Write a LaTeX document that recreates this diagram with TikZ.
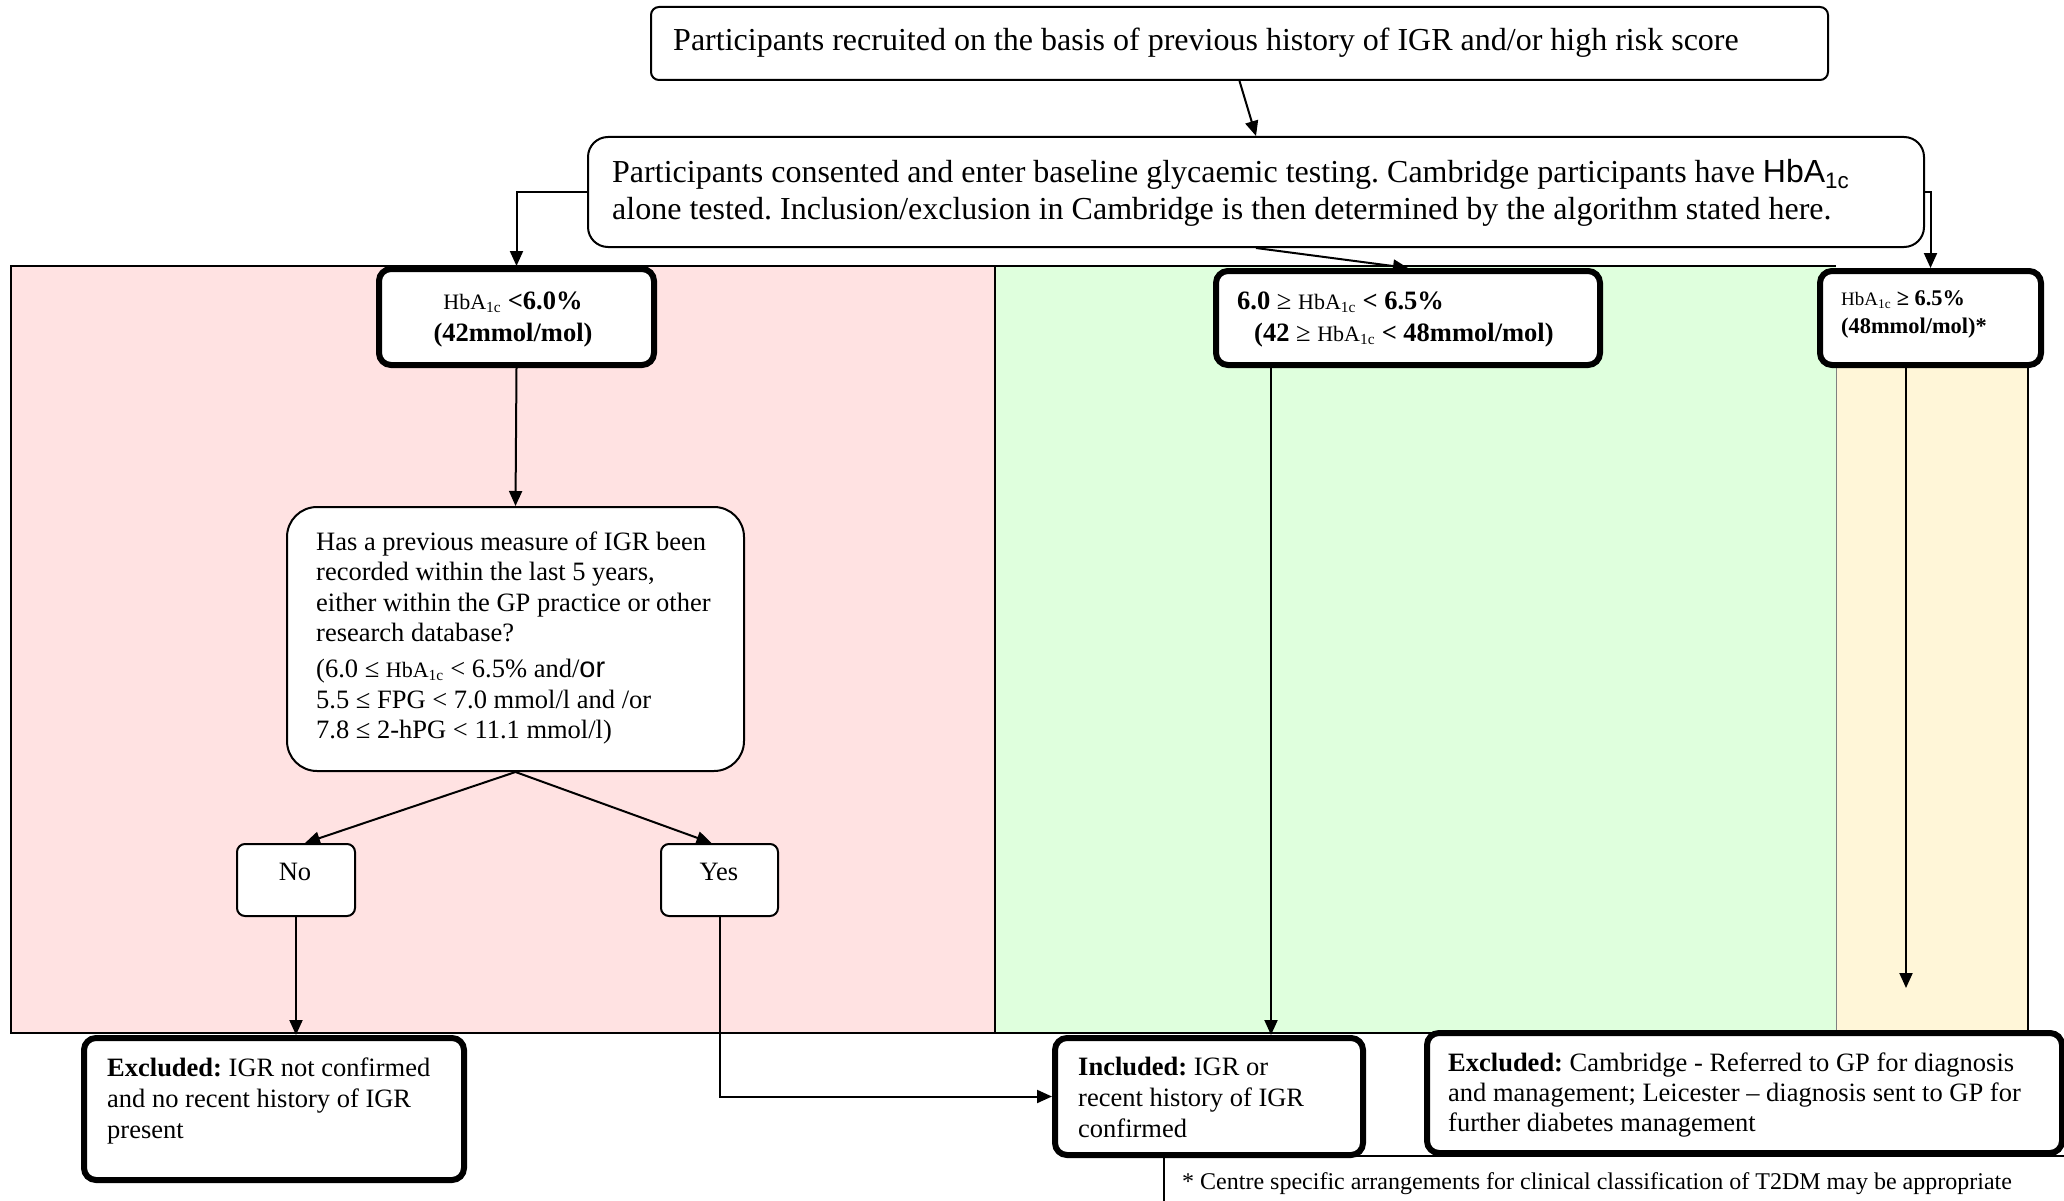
\documentclass[tikz,border=0pt]{standalone}
\usepackage{fontspec}
\setmainfont{Liberation Serif}
\newfontfamily\arialf{Liberation Sans}
\usetikzlibrary{arrows.meta,calc}
\definecolor{pinkbg}{RGB}{255,226,226}
\definecolor{greenbg}{RGB}{223,255,221}
\definecolor{yellowbg}{RGB}{255,246,216}
\newcommand\myfs[2]{\fontsize{#1}{#2}\selectfont}
\newcommand\hbasmall{{\fontsize{22}{26}\selectfont HbA\textsubscript{1c}}}
\newcommand\hbatiny{{\fontsize{19}{22}\selectfont HbA\textsubscript{1c}}}
\frenchspacing
\begin{document}
\begin{tikzpicture}[x=1pt,y=-1pt,
  thinbox/.style={draw=black, line width=2pt, fill=white, rounded corners=#1, inner sep=0pt, anchor=north west},
  thinbox/.default=8pt,
  thickbox/.style={draw=black, line width=6pt, fill=white, rounded corners=12pt, inner sep=0pt, anchor=north west},
  txt/.style={inner sep=0pt, anchor=north west, align=left},
  conn/.style={line width=2pt, -{Triangle[length=15pt,width=13pt]}},
  panel/.style={draw=black, line width=2pt}
]
\useasboundingbox (0,0) rectangle (2064,1201);
\clip (0,0) rectangle (2064,1201);
\fill[white] (0,0) rectangle (2064,1201);

% panels
\fill[pinkbg] (11,266) rectangle (995,1033);
\fill[greenbg] (995,266) rectangle (1836,1033);
\fill[yellowbg] (1836,363) rectangle (2028,1033);
\draw[panel] (11,266) rectangle (995,1033);
\draw[panel] (995,266) -- (1836,266);
\draw[panel] (995,1033) -- (1836,1033);
\draw[draw=gray, line width=1pt] (1836,363) -- (1836,1033);
\draw[line width=1.5pt] (2028,363) -- (2028,1033);
\draw[draw=gray, line width=1pt] (1836,1033) -- (2028,1033);

% footnote box
\node[draw=black, line width=1.5pt, fill=white, anchor=north west, inner sep=0pt,
      minimum width=950pt, minimum height=100pt] (fn) at (1163,1155) {};

% boxes
\node[thinbox=8pt, minimum width=1177pt, minimum height=73pt] (top) at (650,6) {};
\node[thinbox=20pt, minimum width=1336pt, minimum height=110pt] (consent) at (587,136) {};
\node[thickbox, minimum width=275pt, minimum height=96pt] (low) at (376,266) {};
\node[thickbox, minimum width=384pt, minimum height=94pt] (mid) at (1213,268) {};
\node[thickbox, minimum width=221pt, minimum height=94pt] (high) at (1817,268) {};
\node[thinbox=30pt, minimum width=457pt, minimum height=264pt] (q) at (286,506) {};
\node[thinbox=8pt, minimum width=118pt, minimum height=72pt] (no) at (236,843) {};
\node[thinbox=8pt, minimum width=117pt, minimum height=72pt] (yes) at (660,843) {};
\node[thickbox, minimum width=380pt, minimum height=142pt] (exL) at (81,1035) {};
\node[thickbox, minimum width=308pt, minimum height=117pt] (incl) at (1052,1035) {};
\node[thickbox, minimum width=635pt, minimum height=120pt] (exR) at (1424,1030) {};

% connectors
\draw[conn] (top.south) -- (consent.north);
\draw[conn] (consent.west) -| (low.north);
\draw[conn] (consent.east) -| (high.north);
\draw[conn] (consent.south) -- (mid.north);
\draw[conn] (low.south) -- (q.north);
\draw[conn] (q.south) -- ([xshift=9pt]no.north);
\draw[conn] (q.south) -- ([xshift=-8pt]yes.north);
\draw[conn] (no.south) -- (no.south |- exL.north);
\draw[conn] (yes.south) |- (incl.west);
\coordinate (gdrop) at (1271,363);
\draw[conn] (gdrop) -- (gdrop |- incl.north);
\coordinate (yend) at (1906,988);
\draw[conn] (yend |- high.south) -- (yend);

% texts
\node[txt, font=\myfs{32}{37}] (toptext) at (673,24)
  {\strut Participants recruited on the basis of previous history of IGR and/or high risk score};
\node[txt, font=\myfs{32}{37}] (consenttext) at (612,156)
  {\strut Participants consented and enter baseline glycaemic testing. Cambridge participants have {\arialf HbA\textsubscript{1c}}\\
   alone tested. Inclusion/exclusion in Cambridge is then determined by the algorithm stated here.};
\node[txt, anchor=north, align=center, font=\myfs{26.5}{32}] (lowtext) at (513,286.6)
  {\strut\hbasmall\ \textbf{<6.0\%}\\ \textbf{(42mmol/mol)}};
\node[txt, font=\myfs{26.5}{32}] (midtext) at (1237,286.6)
  {\strut\textbf{6.0} ≥ \hbasmall\ \textbf{< 6.5\%}\\
   \hspace*{17pt}\textbf{(42} ≥ \hbasmall\ \textbf{< 48mmol/mol)}};
\node[txt, font=\myfs{22.4}{28}] (hightext) at (1841,285.4)
  {\strut\hbatiny\ \textbf{≥ 6.5\%}\\ \textbf{(48mmol/mol)*}};
\node[txt, font=\myfs{26.5}{30.5}] (qtext) at (316,528.65)
  {\strut Has a previous measure of IGR been\\
   recorded within the last 5 years,\\
   either within the GP practice or other\\
   research database?\\[5.5pt]
   (6.0 ≤ \hbasmall\ < 6.5\% and/{\arialf\fontsize{29}{30}\selectfont or}\\
   5.5 ≤ FPG < 7.0 mmol/l and /or\\
   7.8 ≤ 2-hPG < 11.1 mmol/l)};
\node[txt, anchor=north, font=\myfs{26.5}{30.5}] (notext) at (295,858.65) {\strut No};
\node[txt, anchor=north, font=\myfs{26.5}{30.5}] (yestext) at (719,858.65) {\strut Yes};
\node[txt, font=\myfs{26.5}{31}] (exLtext) at (107,1054.3)
  {\strut\textbf{Excluded:} IGR not confirmed\\ and no recent history of IGR\\ present};
\node[txt, font=\myfs{26.5}{31}] (incltext) at (1078,1053.3)
  {\strut\textbf{Included:} IGR or\\ recent history of IGR\\ confirmed};
\node[txt, font=\myfs{26.5}{30}] (exRtext) at (1448,1050)
  {\strut\textbf{Excluded:} Cambridge - Referred to GP for diagnosis\\
   and management; Leicester – diagnosis sent to GP for\\
   further diabetes management};
\node[txt, font=\myfs{24}{28}] (fntext) at (1182,1170)
  {\strut * Centre specific arrangements for clinical classification of T2DM may be appropriate};
\end{tikzpicture}
\end{document}
